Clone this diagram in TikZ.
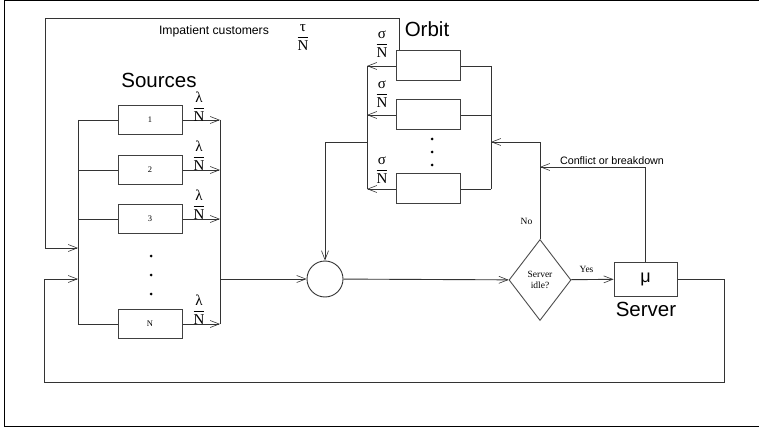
\documentclass[tikz,border=0pt]{standalone}
\usepackage{fontspec}
\setmainfont{Liberation Serif}
\newfontfamily\sansf{Liberation Sans}
\usetikzlibrary{shapes.geometric,arrows.meta}
\newcommand{\ratefrac}[1]{$\displaystyle\frac{\hbox{#1}}{\hbox{N}}$}

\begin{document}
\begin{tikzpicture}[x=1pt,y=-1pt,
  ln/.style={draw=black!80, line width=0.9pt},
  arr/.style={ln, -{Straight Barb[length=9pt,width=7pt,line width=0.6pt]}},
  box/.style={draw=black!75, line width=1pt, rectangle, minimum width=64pt, minimum height=29pt, inner sep=0pt, font=\fontsize{8.5}{9}\selectfont},
  frac/.style={inner sep=0pt, anchor=south, font=\fontsize{15}{15}\selectfont},
  big/.style={font=\sansf\fontsize{20.5}{22}\selectfont, inner sep=0pt, anchor=base},
  small/.style={font=\fontsize{9.5}{11.5}\selectfont, inner sep=0pt},
  dot/.style={circle, fill=black, inner sep=0pt, minimum size=3pt}
]
\useasboundingbox (0,0) rectangle (759,430);
\draw[black, line width=1pt] (759,1) -- (4,1) -- (4,426) -- (759,426);

% ---- Sources ----
\node[big] (srclbl) at (159,87.3) {Sources};
\node[box] (s1) at (150,120) {1};
\node[box] (s2) at (150,170) {2};
\node[box] (s3) at (150,219) {3};
\node[box] (sN) at (150,324) {N};
\node[dot] (sd1) at (151,256) {};
\node[dot] (sd2) at (151,275) {};
\node[dot] (sd3) at (151,294) {};

\coordinate (L1) at (78,120);
\coordinate (L2) at (78,170);
\coordinate (L3) at (78,219);
\coordinate (LN) at (78,324);
\coordinate (R1) at (220,120);
\coordinate (R2) at (220,170);
\coordinate (R3) at (220,219);
\coordinate (RN) at (220,324);
\coordinate (Lin1) at (78,248);
\coordinate (Lin2) at (78,279);
\coordinate (Rout) at (220,279);

\draw[ln] (L1) -- (LN);
\draw[ln] (R1) -- (RN);
\draw[ln] (L1) -- (s1);
\draw[ln] (L2) -- (s2);
\draw[ln] (L3) -- (s3);
\draw[ln] (LN) -- (sN);
\draw[arr] (s1) -- (R1);
\draw[arr] (s2) -- (R2);
\draw[arr] (s3) -- (R3);
\draw[arr] (sN) -- (RN);

\node[frac] (fl1) at (199,122) {\ratefrac{λ}};
\node[frac] (fl2) at (199,171) {\ratefrac{λ}};
\node[frac] (fl3) at (199,220) {\ratefrac{λ}};
\node[frac] (flN) at (199,325) {\ratefrac{λ}};

% ---- main line ----
\node[circle, draw=black!80, line width=0.9pt, minimum size=36pt, inner sep=0pt] (m) at (325,279) {};
\node[diamond, draw=black!70, line width=0.9pt, minimum width=62pt, minimum height=81pt, inner sep=0pt, align=center, small] (d) at (540,280) {Server\\idle?};
\node[box, minimum width=63pt, minimum height=34pt, font=\sansf\fontsize{18}{18}\selectfont] (srv) at (645.5,279) {μ};
\node[big] (srvlbl) at (646,316.7) {Server};

\draw[arr] (Rout) -- (m);
\draw[arr] (m) -- (d);
\draw[arr] (d) -- (srv);
\node[small, anchor=base] (yes) at (586.5,272) {Yes};
\node[small, anchor=base] (no) at (526.5,225) {No};

% ---- Orbit ----
\node[big] (orblbl) at (427,36.7) {Orbit};
\node[box, minimum height=30pt] (o1) at (428,66) {};
\node[box, minimum height=30pt] (o2) at (428,115) {};
\node[box, minimum height=30pt] (o3) at (428,189) {};
\node[dot] (od1) at (432,139) {};
\node[dot] (od2) at (432,152) {};
\node[dot] (od3) at (432,165) {};

\coordinate (OL1) at (367,66);
\coordinate (OL2) at (367,115);
\coordinate (OL3) at (367,189);
\coordinate (OLm) at (367,142);
\coordinate (OR1) at (491,66);
\coordinate (OR2) at (491,115);
\coordinate (OR3) at (491,189);
\coordinate (ORm) at (491,142);

\draw[ln] (OL1) -- (OL3);
\draw[ln] (OR1) -- (OR3);
\draw[arr] (o1) -- (OL1);
\draw[arr] (o2) -- (OL2);
\draw[arr] (o3) -- (OL3);
\draw[ln] (o1) -- (OR1);
\draw[ln] (o2) -- (OR2);
\draw[ln] (o3) -- (OR3);

\node[frac] (fs1) at (382,58) {\ratefrac{σ}};
\node[frac] (fs2) at (382,108) {\ratefrac{σ}};
\node[frac] (fs3) at (382,184) {\ratefrac{σ}};

% ---- feedback connectors ----
\coordinate (Dc) at (540,167);
\draw[arr] (d.north) |- (ORm);
\draw[arr] (srv.north) |- (Dc);
\node[font=\sansf\fontsize{10.75}{12}\selectfont, inner sep=0pt, anchor=base] (cb) at (612,164.7) {Conflict or breakdown};
\draw[arr] (OLm) -| (m.north);

\coordinate (topL) at (45,18);
\draw[arr] ([xshift=3.5pt]o1.north west) |- (topL) |- (Lin1);
\node[font=\sansf\fontsize{12.2}{14}\selectfont, inner sep=0pt, anchor=base] (imp) at (214,34.7) {Impatient customers};
\node[frac] (ft) at (303,51) {\ratefrac{τ}};

\coordinate (br) at (724,382);
\coordinate (bl) at (44,382);
\draw[arr] (srv.east) -| (br) -- (bl) |- (Lin2);
\end{tikzpicture}
\end{document}
